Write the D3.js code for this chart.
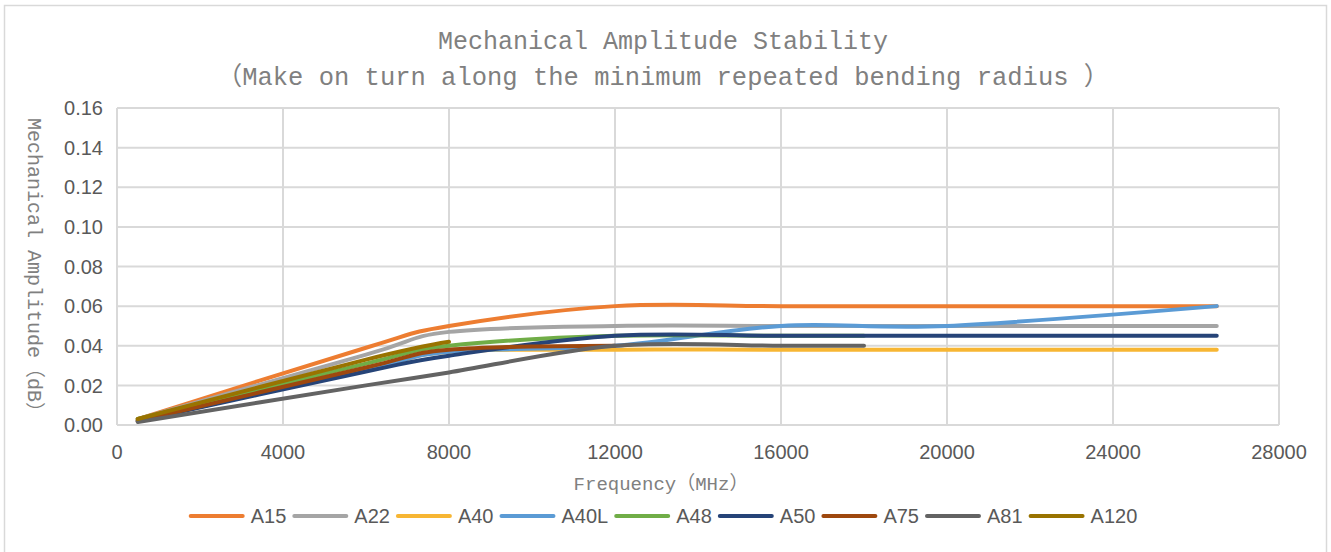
<!DOCTYPE html>
<html>
  <head>
    <meta charset="utf-8">
    <title>Mechanical Amplitude Stability</title>
    <script src="https://cdn.jsdelivr.net/npm/d3@7"></script>
    <style media="screen">
      body {
        margin: 0;
        background: #fff;
      }
      svg {
        display: block;
      }
      .grid line {
        stroke: #d9d9d9;
        stroke-width: 2;
      }
      .tick-label {
        font: 20px "Liberation Sans", Arial, sans-serif;
        fill: #595959;
      }
      .title, .axis-title {
        font-family: "Liberation Mono", "Noto Sans CJK SC", monospace;
        fill: #808080;
      }
    </style>
  </head>
  <body>
    <script type="text/javascript">

    // series data
    const seriesNames = ['A15', 'A22', 'A40', 'A40L', 'A48', 'A50', 'A75', 'A81', 'A120'];
    const colors = ['#ED7D31', '#A5A5A5', '#F7B633', '#5B9BD5', '#70AD47', '#264478', '#9E480E', '#636363', '#997300'];

    const freqLong = [500, 6000, 8000, 12000, 16000, 20000, 26500];
    const freq18 = [500, 6000, 8000, 12000, 16000, 18000];
    const freq12 = [500, 6000, 8000, 12000];
    const freq8 = [500, 6000, 8000];

    const a15 = [0.003, 0.039, 0.050, 0.060, 0.060, 0.060, 0.060];
    const a22 = [0.003, 0.0355, 0.047, 0.050, 0.050, 0.050, 0.050];
    const a40 = [0.002, 0.028, 0.037, 0.038, 0.038, 0.038, 0.038];
    const a40l = [0.002, 0.028, 0.037, 0.040, 0.050, 0.050, 0.060];
    const a48 = [0.003, 0.031, 0.040, 0.045, 0.045, 0.045];
    const a50 = [0.002, 0.027, 0.035, 0.045, 0.045, 0.045, 0.045];
    const a75 = [0.002, 0.029, 0.038, 0.040];
    const a81 = [0.0015, 0.020, 0.0265, 0.040, 0.040, 0.040];
    const a120 = [0.003, 0.033, 0.042];

    const seriesFreqs = [freqLong, freqLong, freqLong, freqLong, freq18, freqLong, freq12, freq18, freq8];
    const seriesValues = [a15, a22, a40, a40l, a48, a50, a75, a81, a120];

    const xTicks = [0, 4000, 8000, 12000, 16000, 20000, 24000, 28000];
    const yTicks = [0, 0.02, 0.04, 0.06, 0.08, 0.10, 0.12, 0.14, 0.16];

    const titleText = 'Mechanical Amplitude Stability';
    const subtitleText = '（Make on turn along the minimum repeated bending radius ）';
    const xTitle = 'Frequency（MHz）';
    const yTitle = 'Mechanical Amplitude（dB）';

    const W = 1331, H = 552;
    let margin = {top: 108, right: 52, left: 117, bottom: 127},
        width = W - margin.left - margin.right,
        height = H - margin.top - margin.bottom;

    const svg = d3.select('body').append('svg')
      .attr('width', W)
      .attr('height', H);

    // chart border
    svg.append('rect')
      .attr('x', 4.5).attr('y', 5.5)
      .attr('width', 1322).attr('height', 548)
      .attr('fill', '#fff')
      .attr('stroke', '#d9d9d9')
      .attr('stroke-width', 1.5);

    const g = svg.append('g')
      .attr('transform', 'translate(' + margin.left + ',' + margin.top + ')');

    const x = d3.scaleLinear().domain([0, 28000]).range([0, width]);
    const y = d3.scaleLinear().domain([0, 0.16]).range([height, 0]);

    // gridlines
    const grid = g.append('g').attr('class', 'grid');
    grid.selectAll('.h').data(yTicks).enter().append('line')
      .attr('x1', 0).attr('x2', width)
      .attr('y1', d => y(d)).attr('y2', d => y(d));
    grid.selectAll('.v').data(xTicks).enter().append('line')
      .attr('x1', d => x(d)).attr('x2', d => x(d))
      .attr('y1', 0).attr('y2', height);

    // tick labels
    g.selectAll('.ytl').data(yTicks).enter().append('text')
      .attr('class', 'tick-label')
      .attr('x', -14)
      .attr('y', d => y(d))
      .attr('dy', '0.36em')
      .attr('text-anchor', 'end')
      .text(d => d3.format('.2f')(d));

    g.selectAll('.xtl').data(xTicks).enter().append('text')
      .attr('class', 'tick-label')
      .attr('x', d => x(d))
      .attr('y', height + 34)
      .attr('text-anchor', 'middle')
      .text(d => d);

    // lines
    const line = d3.line()
      .x(d => x(d[0]))
      .y(d => y(d[1]))
      .curve(d3.curveCardinal.tension(0));

    seriesNames.forEach((name, i) => {
      const pts = seriesFreqs[i].map((f, j) => [f, seriesValues[i][j]]);
      g.append('path')
        .datum(pts)
        .attr('fill', 'none')
        .attr('stroke', colors[i])
        .attr('stroke-width', 4)
        .attr('stroke-linecap', 'round')
        .attr('stroke-linejoin', 'round')
        .attr('d', line);
    });

    // titles
    svg.append('text')
      .attr('class', 'title')
      .attr('x', 663).attr('y', 49)
      .attr('text-anchor', 'middle')
      .style('font-size', '25px')
      .text(titleText);
    svg.append('text')
      .attr('class', 'title')
      .attr('x', 663).attr('y', 85)
      .attr('text-anchor', 'middle')
      .style('font-size', '25.5px')
      .text(subtitleText);

    svg.append('text')
      .attr('class', 'axis-title')
      .attr('x', 661).attr('y', 490)
      .attr('text-anchor', 'middle')
      .style('font-size', '19px')
      .text(xTitle);

    svg.append('text')
      .attr('class', 'axis-title')
      .attr('transform', 'translate(28,270) rotate(90)')
      .attr('text-anchor', 'middle')
      .style('font-size', '20px')
      .text(yTitle);

    // legend
    const legend = svg.append('g');
    let lx = 0;
    seriesNames.forEach((name, i) => {
      const item = legend.append('g').attr('transform', 'translate(' + lx + ',0)');
      item.append('line')
        .attr('x1', 0).attr('x2', 52)
        .attr('y1', 0).attr('y2', 0)
        .attr('stroke', colors[i])
        .attr('stroke-width', 4)
        .attr('stroke-linecap', 'round');
      const t = item.append('text')
        .attr('class', 'tick-label')
        .attr('x', 60).attr('dy', '0.36em')
        .text(name);
      lx += 60 + t.node().getComputedTextLength() + 8;
    });
    lx -= 8;
    legend.attr('transform', 'translate(' + (664 - lx / 2) + ',516)');

    </script>
  </body>
</html>
